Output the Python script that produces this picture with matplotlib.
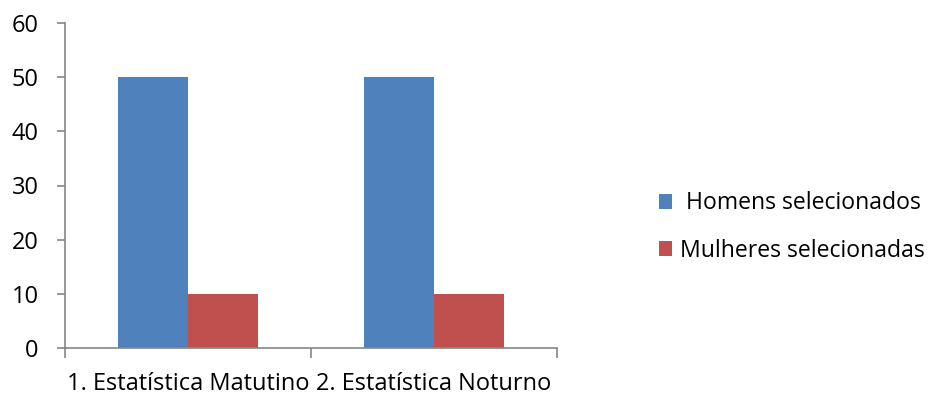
import numpy as np
import matplotlib.pyplot as plt

plt.rcParams['font.family'] = ['Open Sans', 'DejaVu Sans']

categorias = ['1. Estatística Matutino', '2. Estatística Noturno']
homens = [50, 50]
mulheres = [10, 10]
series = ['Homens selecionados', 'Mulheres selecionadas']
cores = ['#4f81bd', '#c0504d']

fig = plt.figure(figsize=(9.32, 3.97), dpi=100)
ax = fig.add_axes([65 / 932, 1 - 348 / 397, (557 - 65) / 932, (348 - 23) / 397])

x = np.arange(len(categorias))
w = 0.285
ax.bar(x - w / 2, homens, w, color=cores[0], label=' ' + series[0])
ax.bar(x + w / 2, mulheres, w, color=cores[1], label=series[1])

ax.set_xlim(-0.5, len(categorias) - 0.5)
ax.set_ylim(0, 60)
ax.set_yticks(range(0, 61, 10))
ax.set_xticks(np.arange(-0.5, len(categorias), 1.0))
ax.set_xticklabels([])
ax.set_xticks(x, minor=True)
ax.set_xticklabels(categorias, minor=True)
ax.tick_params(axis='x', which='minor', length=0, pad=17, labelsize=17)
ax.tick_params(axis='x', which='major', length=7, color='#868686', width=1.2)
ax.tick_params(axis='y', length=6, color='#868686', width=1.2, labelsize=17, pad=13)

for s in ['top', 'right']:
    ax.spines[s].set_visible(False)
for s in ['left', 'bottom']:
    ax.spines[s].set_color('#868686')
    ax.spines[s].set_linewidth(1.2)

fig.legend(loc='center left', bbox_to_anchor=(659 / 932, 1 - 227 / 397),
           frameon=False, fontsize=16.6, handlelength=0.58, handleheight=0.58,
           handletextpad=0.33, labelspacing=1.0, borderpad=0, borderaxespad=0)

fig.savefig('out.png', dpi=100)
